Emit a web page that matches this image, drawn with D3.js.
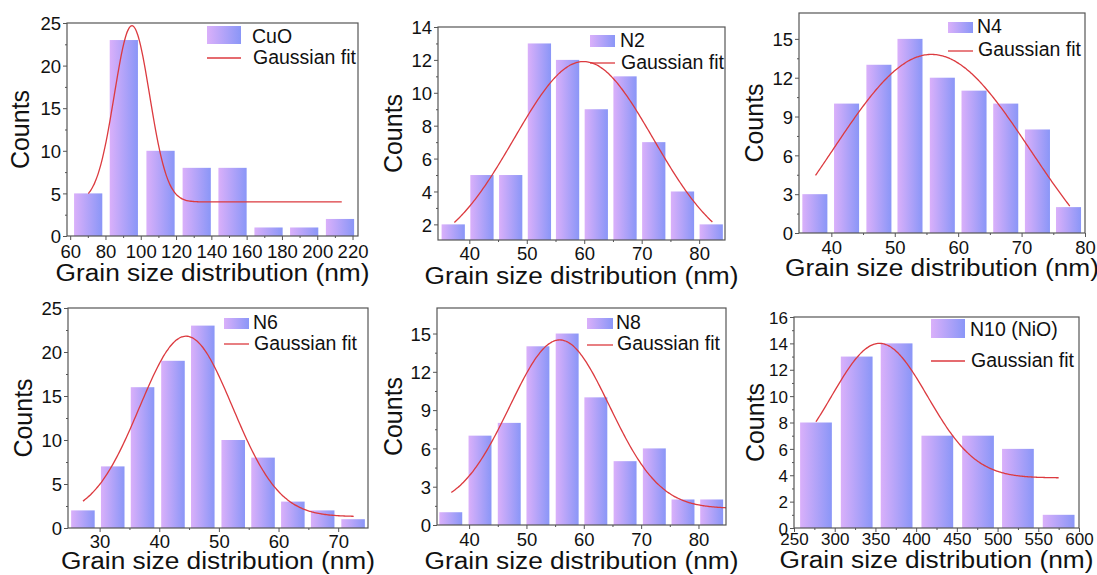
<!DOCTYPE html>
<html>
<head>
<meta charset="utf-8">
<script src="https://cdn.jsdelivr.net/npm/d3@7"></script>
<style>
  body { margin: 0; background: #fff; }
  svg text { font-family: Arial, "Liberation Sans", sans-serif; fill: #111; }
</style>
</head>
<body>
<svg id="fig" width="1097" height="575"></svg>
<script>
// histogram bin centres (nm) and counts per sample
const cuoSize  = [70.2, 90.4, 111.2, 131.7, 152.0, 172.4, 192.6, 212.9];
const cuoCount = [5, 23, 10, 8, 8, 1, 1, 2];
const n2Size   = [37.2, 42.2, 47.2, 52.2, 57.1, 62.1, 67.1, 72.1, 77.1, 82.1];
const n2Count  = [2, 5, 5, 13, 12, 9, 11, 7, 4, 2];
const n4Size   = [37.4, 42.4, 47.5, 52.4, 57.5, 62.5, 67.5, 72.5, 77.4];
const n4Count  = [3, 10, 13, 15, 12, 11, 10, 8, 2];
const n6Size   = [27.2, 32.2, 37.2, 42.3, 47.3, 52.4, 57.4, 62.4, 67.4, 72.5];
const n6Count  = [2, 7, 16, 19, 23, 10, 8, 3, 2, 1];
const n8Size   = [36.8, 41.9, 47.0, 52.0, 57.1, 62.1, 67.2, 72.3, 77.3, 82.3];
const n8Count  = [1, 7, 8, 14, 15, 10, 5, 6, 2, 2];
const n10Size  = [277, 327, 376, 426, 476, 525, 575];
const n10Count = [8, 13, 14, 7, 7, 6, 1];

// Gaussian fits: centre, width (sigma), amplitude, offset, fitted range
const cuoFit = { xc: 95,   w: 10,   A: 20.7, y0: 4,   from: 70.3, to: 213.9 };
const n2Fit  = { xc: 59.9, w: 12.1, A: 11.9, y0: 0,   from: 37.4, to: 82.3 };
const n4Fit  = { xc: 55.8, w: 15.6, A: 18.8, y0: -5,  from: 37.5, to: 77.6 };
const n6Fit  = { xc: 44.5, w: 7.8,  A: 20.5, y0: 1.3, from: 27.2, to: 72.6 };
const n8Fit  = { xc: 55.8, w: 8.7,  A: 13.2, y0: 1.3, from: 36.9, to: 84.8 };
const n10Fit = { xc: 355,  w: 59,   A: 10.2, y0: 3.8, from: 277,  to: 575 };

// tick values
const cuoXTicks = [60, 80, 100, 120, 140, 160, 180, 200, 220];
const nmXTicks  = [40, 50, 60, 70, 80];
const n6XTicks  = [30, 40, 50, 60, 70];
const n10XTicks = [250, 300, 350, 400, 450, 500, 550, 600];
const y25Ticks  = [0, 5, 10, 15, 20, 25];
const y14Ticks  = [2, 4, 6, 8, 10, 12, 14];
const y15Ticks  = [0, 3, 6, 9, 12, 15];
const y16Ticks  = [0, 2, 4, 6, 8, 10, 12, 14, 16];

const panels = [
  { name: "CuO", size: cuoSize, count: cuoCount, fit: cuoFit, barW: 16,
    box: [67, 358, 23, 236], xDom: [58.2, 223.1], yDom: [0, 25],
    xTicks: cuoXTicks, yTicks: y25Ticks, tickY: 22, titleY: 45, titleX: -38,
    leg: { x: 207, y: 26, w: 34, h: 18, tx: 252, ty1: 43, ly: 58, ty2: 64 } },
  { name: "N2", size: n2Size, count: n2Count, fit: n2Fit, barW: 4.05,
    box: [438, 725, 27, 240], xDom: [34.55, 84.5], yDom: [1.05, 14],
    xTicks: nmXTicks, yTicks: y14Ticks, tickY: 20, titleY: 44, titleX: -36,
    leg: { x: 590, y: 35, w: 25, h: 12, tx: 620, ty1: 47, ly: 63, ty2: 69 } },
  { name: "N4", size: n4Size, count: n4Count, fit: n4Fit, barW: 3.95,
    box: [799, 1085, 13, 233], xDom: [34.9, 80], yDom: [0, 17],
    xTicks: nmXTicks, yTicks: y15Ticks, tickY: 21, titleY: 43, titleX: -36,
    leg: { x: 948, y: 22, w: 25, h: 11, tx: 977, ty1: 33, ly: 51, ty2: 56 } },
  { name: "N6", size: n6Size, count: n6Count, fit: n6Fit, barW: 3.95,
    box: [68, 368, 308, 528], xDom: [24.7, 75], yDom: [0, 25],
    xTicks: n6XTicks, yTicks: y25Ticks, tickY: 20, titleY: 41, titleX: -36,
    leg: { x: 224, y: 318, w: 25, h: 11, tx: 253, ty1: 329, ly: 344, ty2: 350 } },
  { name: "N8", size: n8Size, count: n8Count, fit: n8Fit, barW: 4.0,
    box: [437, 726, 308, 525], xDom: [34.4, 84.8], yDom: [0, 17],
    xTicks: nmXTicks, yTicks: y15Ticks, tickY: 21, titleY: 44, titleX: -35,
    leg: { x: 587, y: 318, w: 26, h: 11, tx: 616, ty1: 329, ly: 345, ty2: 350 } },
  { name: "N10 (NiO)", size: n10Size, count: n10Count, fit: n10Fit, barW: 39,
    box: [794, 1079, 317, 528], xDom: [250, 600], yDom: [0, 16],
    xTicks: n10XTicks, yTicks: y16Ticks, tickY: 17, titleY: 40, titleX: -30, tickFont: 17,
    leg: { x: 931, y: 319, w: 34, h: 19, tx: 970, ty1: 336, ly: 361, ty2: 367 } }
];

const svg = d3.select("#fig");

// violet-to-blue fill used by every bar and legend swatch
const grad = svg.append("defs").append("linearGradient")
  .attr("id", "barGrad")
  .attr("x1", "0%").attr("x2", "100%").attr("y1", "0%").attr("y2", "0%");
grad.append("stop").attr("offset", "0%").attr("stop-color", "#dab0fa");
grad.append("stop").attr("offset", "100%").attr("stop-color", "#8a96f7");

const gauss = f => x => f.y0 + f.A * Math.exp(-((x - f.xc) ** 2) / (2 * f.w * f.w));

panels.forEach(p => {
  const [left, right, top, bottom] = p.box;
  const x = d3.scaleLinear().domain(p.xDom).range([left, right]);
  const y = d3.scaleLinear().domain(p.yDom).range([bottom, top]);
  const g = svg.append("g");

  /* bars */
  g.append("g").selectAll("rect")
    .data(p.count)
    .enter()
    .append("rect")
    .attr("x", (d, i) => x(p.size[i] - p.barW / 2))
    .attr("width", (d, i) => x(p.size[i] + p.barW / 2) - x(p.size[i] - p.barW / 2))
    .attr("y", d => y(d))
    .attr("height", d => y(p.yDom[0]) - y(d))
    .attr("fill", "url(#barGrad)");

  /* fitted curve */
  const f = gauss(p.fit);
  const step = (p.fit.to - p.fit.from) / 200;
  const xs = d3.range(p.fit.from, p.fit.to + step / 2, step);
  g.append("path")
    .datum(xs)
    .attr("fill", "none")
    .attr("stroke", "#dc3a3f")
    .attr("stroke-width", 1.3)
    .attr("d", d3.line().x(d => x(d)).y(d => y(f(d))).curve(d3.curveBasis));

  /* frame */
  g.append("rect")
    .attr("x", left).attr("y", top)
    .attr("width", right - left).attr("height", bottom - top)
    .attr("fill", "none").attr("stroke", "#555").attr("stroke-width", 1.2);

  /* axes */
  const tickFont = p.tickFont || 18.5;
  const xMinor = d3.range(p.xTicks.length - 1).map(i => (p.xTicks[i] + p.xTicks[i + 1]) / 2);
  const yMinor = d3.range(p.yTicks.length - 1).map(i => (p.yTicks[i] + p.yTicks[i + 1]) / 2);

  const xAxis = g.append("g")
    .attr("transform", `translate(0, ${bottom})`)
    .call(d3.axisBottom(x).tickValues(p.xTicks).tickSizeInner(4).tickSizeOuter(0));
  xAxis.select(".domain").remove();
  xAxis.selectAll("line").attr("stroke", "#555");
  xAxis.selectAll("text")
    .attr("font-size", tickFont).attr("fill", "#111")
    .attr("dy", null).attr("y", p.tickY);

  g.append("g")
    .attr("transform", `translate(0, ${bottom})`)
    .call(d3.axisBottom(x).tickValues(xMinor).tickSizeInner(2).tickSizeOuter(0).tickFormat(""))
    .call(a => a.select(".domain").remove())
    .selectAll("line").attr("stroke", "#555");

  const yAxis = g.append("g")
    .attr("transform", `translate(${left}, 0)`)
    .call(d3.axisLeft(y).tickValues(p.yTicks).tickSizeInner(4).tickSizeOuter(0));
  yAxis.select(".domain").remove();
  yAxis.selectAll("line").attr("stroke", "#555");
  yAxis.selectAll("text")
    .attr("font-size", tickFont).attr("fill", "#111")
    .attr("x", -6).attr("dy", "0.36em");

  g.append("g")
    .attr("transform", `translate(${left}, 0)`)
    .call(d3.axisLeft(y).tickValues(yMinor).tickSizeInner(2).tickSizeOuter(0).tickFormat(""))
    .call(a => a.select(".domain").remove())
    .selectAll("line").attr("stroke", "#555");

  /* axis titles */
  g.append("text")
    .attr("x", (left + right) / 2)
    .attr("y", bottom + p.titleY)
    .attr("text-anchor", "middle")
    .attr("font-size", 23.5)
    .attr("textLength", 314)
    .attr("lengthAdjust", "spacingAndGlyphs")
    .text("Grain size distribution (nm)");

  g.append("text")
    .attr("transform", `translate(${left + p.titleX}, ${(top + bottom) / 2}) rotate(-90)`)
    .attr("text-anchor", "middle")
    .attr("font-size", 25)
    .text("Counts");

  /* legend */
  const L = p.leg;
  g.append("rect")
    .attr("x", L.x).attr("y", L.y).attr("width", L.w).attr("height", L.h)
    .attr("fill", "url(#barGrad)");
  g.append("text").attr("x", L.tx).attr("y", L.ty1).attr("font-size", 19.5).text(p.name);
  g.append("line")
    .attr("x1", L.x).attr("x2", L.x + L.w).attr("y1", L.ly).attr("y2", L.ly)
    .attr("stroke", "#dc3a3f").attr("stroke-width", 1.3);
  g.append("text").attr("x", L.tx + 1).attr("y", L.ty2).attr("font-size", 19.5).text("Gaussian fit");
});
</script>
</body>
</html>
